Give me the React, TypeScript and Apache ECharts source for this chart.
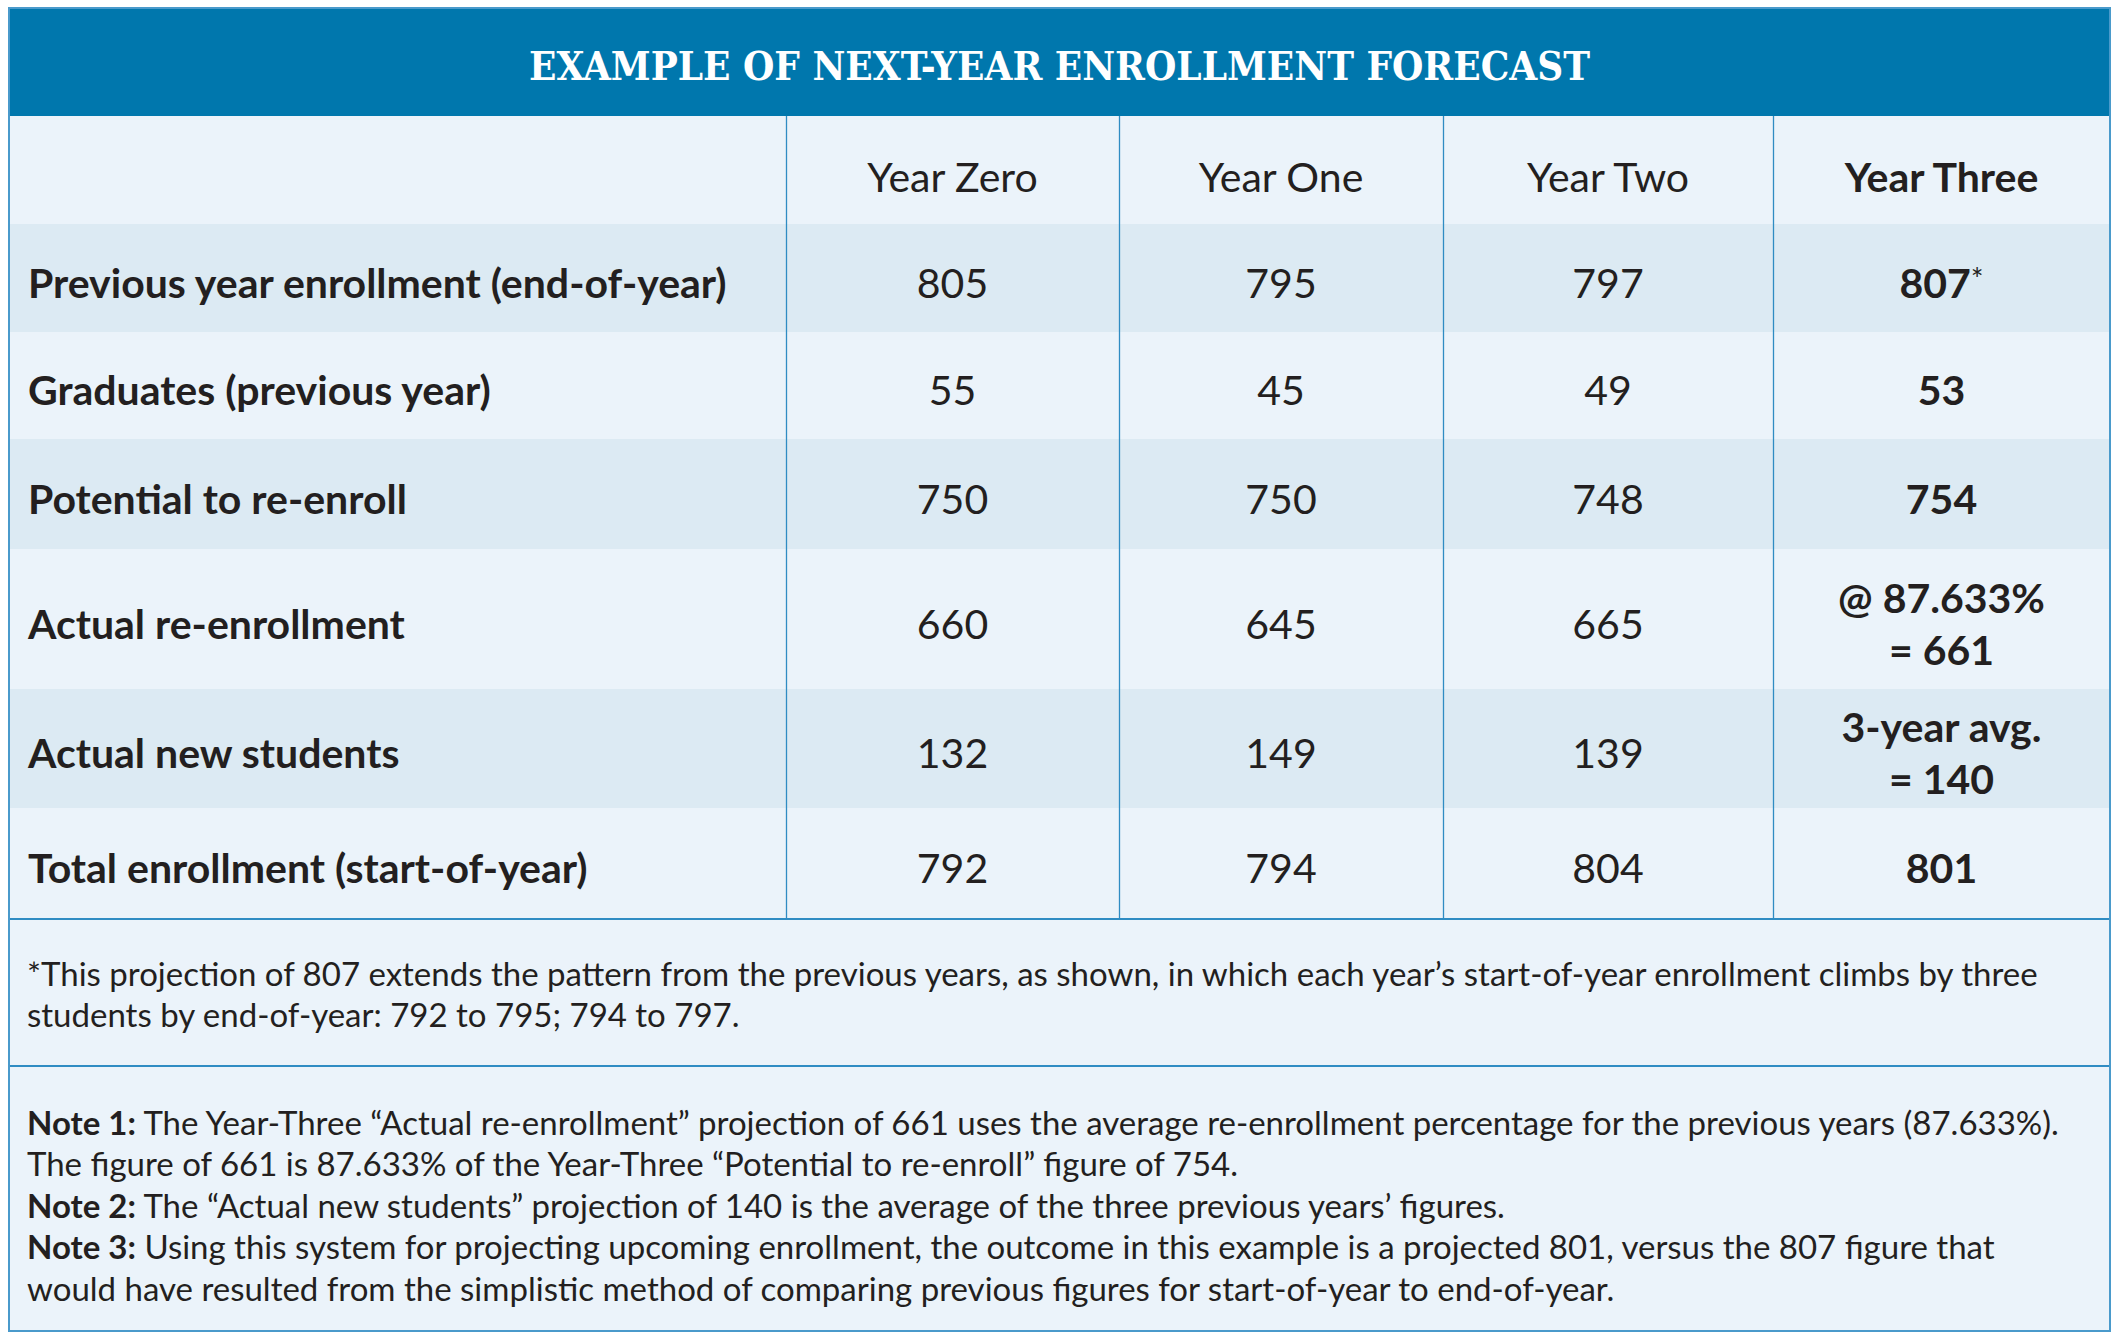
import React, { useEffect, useRef } from "react";
import * as echarts from "echarts";

// ---- data ----
const title = "EXAMPLE OF NEXT-YEAR ENROLLMENT FORECAST";
const columnLabels = ["Year Zero", "Year One", "Year Two", "Year Three"];
const rowLabels = [
  "Previous year enrollment (end-of-year)",
  "Graduates (previous year)",
  "Potential to re-enroll",
  "Actual re-enrollment",
  "Actual new students",
  "Total enrollment (start-of-year)",
];
const yearZero = [805, 55, 750, 660, 132, 792];
const yearOne = [795, 45, 750, 645, 149, 794];
const yearTwo = [797, 49, 748, 665, 139, 804];
const yearThree = [807, 53, 754, 661, 140, 801];
const yearThreePrefix = ["", "", "", "@ 87.633%", "3-year avg.", ""];
const yearThreeMark = ["*", "", "", "", "", ""];
const footnoteLines = [
  "*This projection of 807 extends the pattern from the previous years, as shown, in which each year\u2019s start-of-year enrollment climbs by three",
  "students by end-of-year: 792 to 795; 794 to 797.",
];
const noteLabels = ["Note 1:", "", "Note 2:", "Note 3:", ""];
const noteTexts = [
  " The Year-Three \u201cActual re-enrollment\u201d projection of 661 uses the average re-enrollment percentage for the previous years (87.633%).",
  "The figure of 661 is 87.633% of the Year-Three \u201cPotential to re-enroll\u201d figure of 754.",
  " The \u201cActual new students\u201d projection of 140 is the average of the three previous years\u2019 figures.",
  " Using this system for projecting upcoming enrollment, the outcome in this example is a projected 801, versus the 807 figure that",
  "would have resulted from the simplistic method of comparing previous figures for start-of-year to end-of-year.",
];

// ---- layout ----
const X = [9, 786, 1119, 1443, 1773, 2110];
const HEAD_TOP = 8;
const ROW_Y = [116, 224, 332, 439, 549, 689, 808, 919];
const FOOT_BOTTOM = 1066;
const BOTTOM = 1331;
const FOOT_Y = [973, 1014];
const NOTE_Y = [1122, 1163, 1205, 1246, 1288];

const BLUE = "#0077ad";
const LIGHT = "#ebf3fa";
const DARK = "#dceaf3";
const LINE = "#2f8cc3";
const INK = "#231f20";
const FONT = "Lato, 'Open Sans', sans-serif";
const BODY_SIZE = 41;
const NOTE_SIZE = 33;

function txt(text: string, x: number, y: number, opts: any = {}) {
  const align = opts.align || "left";
  return {
    type: "text",
    silent: true,
    style: {
      text,
      x,
      y,
      fill: opts.fill || INK,
      fontFamily: opts.fontFamily || FONT,
      fontSize: opts.fontSize || BODY_SIZE,
      fontWeight: opts.fontWeight || "normal",
      align,
      textAlign: align,
      verticalAlign: "middle",
      textVerticalAlign: "middle",
      lineHeight: opts.lineHeight,
      rich: opts.rich,
    },
  };
}

function buildGraphic() {
  const els: any[] = [];
  const W = X[X.length - 1] - X[0];
  // backgrounds
  els.push({ type: "rect", silent: true, shape: { x: X[0], y: ROW_Y[0], width: W, height: BOTTOM - ROW_Y[0] }, style: { fill: LIGHT } });
  els.push({ type: "rect", silent: true, shape: { x: X[0], y: HEAD_TOP, width: W, height: ROW_Y[0] - HEAD_TOP }, style: { fill: BLUE } });
  rowLabels.forEach((_, i) => {
    if (i % 2 === 0) {
      els.push({ type: "rect", silent: true, shape: { x: X[0], y: ROW_Y[i + 1], width: W, height: ROW_Y[i + 2] - ROW_Y[i + 1] }, style: { fill: DARK } });
    }
  });
  // vertical dividers
  for (let c = 1; c < X.length - 1; c++) {
    els.push({ type: "line", silent: true, shape: { x1: X[c] + 0.5, y1: ROW_Y[0], x2: X[c] + 0.5, y2: ROW_Y[ROW_Y.length - 1] }, style: { stroke: LINE, lineWidth: 1.3 } });
  }
  // horizontal rules
  [ROW_Y[ROW_Y.length - 1], FOOT_BOTTOM].forEach((y) => {
    els.push({ type: "line", silent: true, shape: { x1: X[0], y1: y, x2: X[X.length - 1], y2: y }, style: { stroke: LINE, lineWidth: 2 } });
  });
  // outer border
  els.push({ type: "rect", silent: true, shape: { x: X[0], y: HEAD_TOP, width: W, height: BOTTOM - HEAD_TOP }, style: { fill: "none", stroke: "#4a9acb", lineWidth: 2 } });

  // title
  els.push(
    txt(title, (X[0] + X[X.length - 1]) / 2, (HEAD_TOP + ROW_Y[0]) / 2 + 3, {
      align: "center",
      fill: "#ffffff",
      fontFamily: "'DejaVu Serif Condensed', 'DejaVu Serif', serif",
      fontWeight: "bold",
      fontSize: 40,
    })
  );

  // column headers
  columnLabels.forEach((lab, c) => {
    const cx = (X[c + 1] + X[c + 2]) / 2;
    els.push(txt(lab, cx, (ROW_Y[0] + ROW_Y[1]) / 2 + 6, { align: "center", fontWeight: c === 3 ? "bold" : "normal" }));
  });

  const cols = [yearZero, yearOne, yearTwo];
  rowLabels.forEach((lab, r) => {
    const cy = (ROW_Y[r + 1] + ROW_Y[r + 2]) / 2 + 4;
    els.push(txt(lab, 28, cy, { fontWeight: "bold" }));
    cols.forEach((vals, c) => {
      const cx = (X[c + 1] + X[c + 2]) / 2;
      els.push(txt(String(vals[r]), cx, cy, { align: "center" }));
    });
    const cx3 = (X[4] + X[5]) / 2;
    const pre = yearThreePrefix[r];
    const mark = yearThreeMark[r];
    let text: string;
    if (pre) text = `{b|${pre}}\n{b|= ${yearThree[r]}}`;
    else if (mark) text = `{b|${yearThree[r]}}{s|${mark}}`;
    else text = `{b|${yearThree[r]}}`;
    els.push(
      txt(text, cx3, cy, {
        align: "center",
        fontWeight: "bold",
        rich: {
          b: { fontFamily: FONT, fontSize: BODY_SIZE, fontWeight: "bold", fill: INK, color: INK, lineHeight: 52 },
          s: { fontFamily: FONT, fontSize: 30, fontWeight: "normal", fill: INK, color: INK, lineHeight: 52, padding: [0, 0, 8, 0] },
        },
      })
    );
  });

  // footnote
  footnoteLines.forEach((line, i) => {
    els.push(txt(line, 27, FOOT_Y[i], { fontSize: NOTE_SIZE }));
  });
  // notes
  noteTexts.forEach((line, i) => {
    const lab = noteLabels[i];
    const text = lab ? `{b|${lab}}{n|${line}}` : `{n|${line}}`;
    els.push(
      txt(text, 27, NOTE_Y[i], {
        fontSize: NOTE_SIZE,
        rich: {
          b: { fontFamily: FONT, fontSize: NOTE_SIZE, fontWeight: "bold", fill: INK, color: INK },
          n: { fontFamily: FONT, fontSize: NOTE_SIZE, fontWeight: "normal", fill: INK, color: INK },
        },
      })
    );
  });
  return els;
}

export default function App() {
  const ref = useRef<HTMLDivElement>(null);
  useEffect(() => {
    document.body.style.margin = "0";
    const chart = echarts.init(ref.current!, undefined, { renderer: "svg" });
    chart.setOption({
      animation: false,
      backgroundColor: "#ffffff",
      graphic: { elements: buildGraphic() },
    });
    return () => chart.dispose();
  }, []);
  return <div ref={ref} style={{ position: "fixed", left: 0, top: 0, width: 2119, height: 1341 }} />;
}
